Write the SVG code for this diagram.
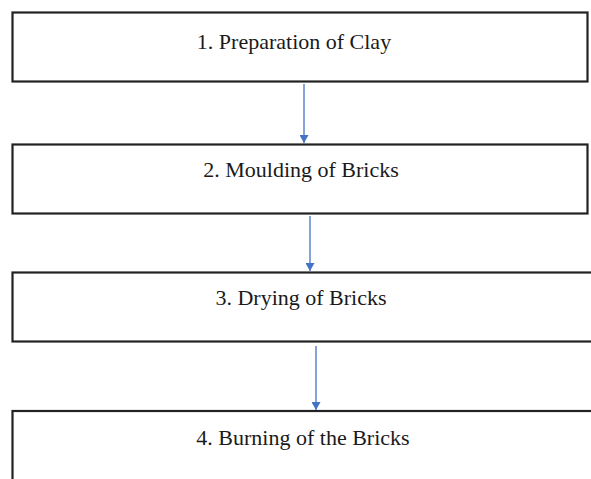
<svg xmlns="http://www.w3.org/2000/svg" width="591" height="479" viewBox="0 0 591 479">
<style>
.box{fill:#fff;stroke:#222;stroke-width:2.2}
.lbl{font-family:"Liberation Serif","Times New Roman",serif;font-size:22px;fill:#1a1a1a;text-anchor:middle}
.conn{stroke:#4472C4;stroke-width:1.3;fill:none}
</style>
<defs>
<marker id="ah" viewBox="0 0 8 9" refX="8" refY="4.5" markerWidth="9" markerHeight="9" markerUnits="userSpaceOnUse" orient="auto">
<path d="M0,0 L8,4.5 L0,9 Z" fill="#4472C4"/>
</marker>
</defs>
<rect width="591" height="479" fill="#fff"/>
<g id="node1"><rect class="box" x="12.5" y="12.5" width="575" height="69"/><text class="lbl" x="294" y="49">1. Preparation of Clay</text></g>
<g id="node2"><rect class="box" x="12.5" y="144.5" width="575" height="69"/><text class="lbl" x="301" y="177">2. Moulding of Bricks</text></g>
<g id="node3"><rect class="box" x="12.5" y="272.5" width="590" height="69"/><text class="lbl" x="301" y="305">3. Drying of Bricks</text></g>
<g id="node4"><rect class="box" x="12.5" y="411" width="590" height="80"/><text class="lbl" x="303" y="445">4. Burning of the Bricks</text></g>
<g id="connectors">
<line class="conn" x1="304" y1="84" x2="304" y2="143" marker-end="url(#ah)"/>
<line class="conn" x1="310" y1="216" x2="310" y2="271" marker-end="url(#ah)"/>
<line class="conn" x1="316" y1="346" x2="316" y2="410" marker-end="url(#ah)"/>
</g>
</svg>
